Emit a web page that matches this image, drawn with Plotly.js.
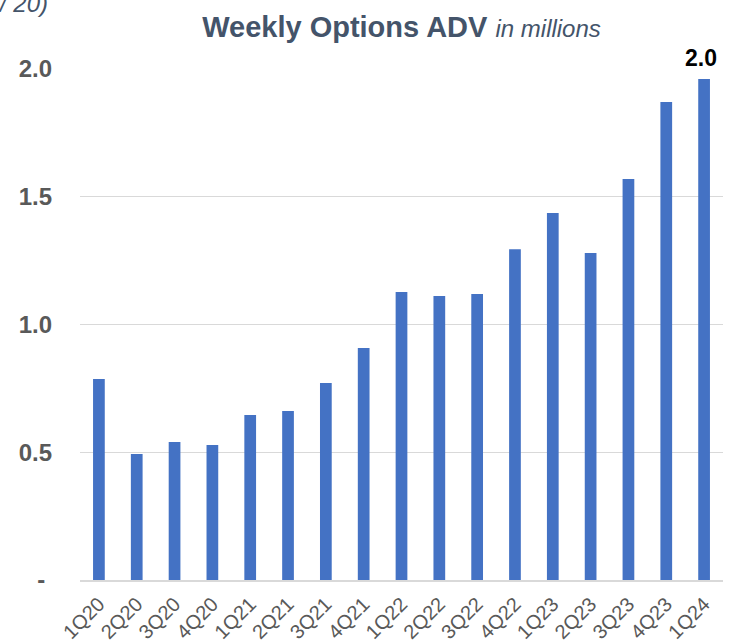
<!DOCTYPE html>
<html>
<head>
<meta charset="utf-8">
<script src="https://cdn.plot.ly/plotly-3.0.1.min.js"></script>
<style>html,body{margin:0;padding:0;background:#fff;}#chart{width:732px;height:641px;}</style>
</head>
<body>
<div id="chart"></div>
<script>
const quarters = ["1Q20","2Q20","3Q20","4Q20","1Q21","2Q21","3Q21","4Q21","1Q22","2Q22","3Q22","4Q22","1Q23","2Q23","3Q23","4Q23","1Q24"];
const adv = [0.787,0.493,0.540,0.528,0.646,0.661,0.771,0.908,1.127,1.112,1.119,1.295,1.436,1.280,1.569,1.871,1.961];
const yTickVals = [0,0.5,1.0,1.5,2.0];
const yTickText = ["-\u00a0","0.5","1.0","1.5","2.0"];
const lastLabel = "2.0";

const trace = {
  type: "bar",
  x: quarters,
  y: adv,
  marker: {color: "#4472C4"},
  hoverinfo: "x+y"
};

const layout = {
  width: 732,
  height: 641,
  margin: {l: 80, r: 9, t: 69, b: 61, pad: 0},
  paper_bgcolor: "#ffffff",
  plot_bgcolor: "#ffffff",
  bargap: 0.69,
  showlegend: false,
  font: {family: "Liberation Sans, Arial, sans-serif"},
  title: {
    text: "<b>Weekly Options ADV</b> <i><span style='font-size:24px'>in millions</span></i>",
    font: {size: 29, color: "#44546A", family: "Liberation Sans, Arial, sans-serif"},
    xref: "paper", x: 0.5, xanchor: "center",
    yref: "container", y: 0.958, yanchor: "middle"
  },
  xaxis: {
    type: "category",
    tickangle: -45,
    tickfont: {size: 20, color: "#595959"},
    showgrid: false,
    showline: true,
    linecolor: "#D9D9D9",
    linewidth: 1.5,
    ticks: "",
    ticklabelstandoff: 3,
    fixedrange: true
  },
  yaxis: {
    range: [0, 2.0],
    tickvals: yTickVals,
    ticktext: yTickText,
    tickfont: {size: 24, color: "#595959", weight: "bold"},
    showgrid: true,
    gridcolor: "#D9D9D9",
    gridwidth: 1,
    zeroline: false,
    showline: false,
    ticks: "",
    ticklabelstandoff: 27,
    fixedrange: true
  },
  annotations: [
    {
      x: quarters[quarters.length - 1],
      y: adv[adv.length - 1],
      xref: "x", yref: "y",
      text: "<b>" + lastLabel + "</b>",
      showarrow: false,
      yanchor: "bottom",
      yshift: 6,
      xshift: -3,
      font: {size: 23, color: "#000000"}
    },
    {
      xref: "paper", yref: "paper",
      x: 0, y: 1,
      xanchor: "left", yanchor: "bottom",
      xshift: -84, yshift: 50,
      text: "<i>/ 20)</i>",
      showarrow: false,
      font: {size: 24, color: "#44546A"}
    }
  ]
};

Plotly.newPlot("chart", [trace], layout, {displayModeBar: false, staticPlot: true});
</script>
</body>
</html>
